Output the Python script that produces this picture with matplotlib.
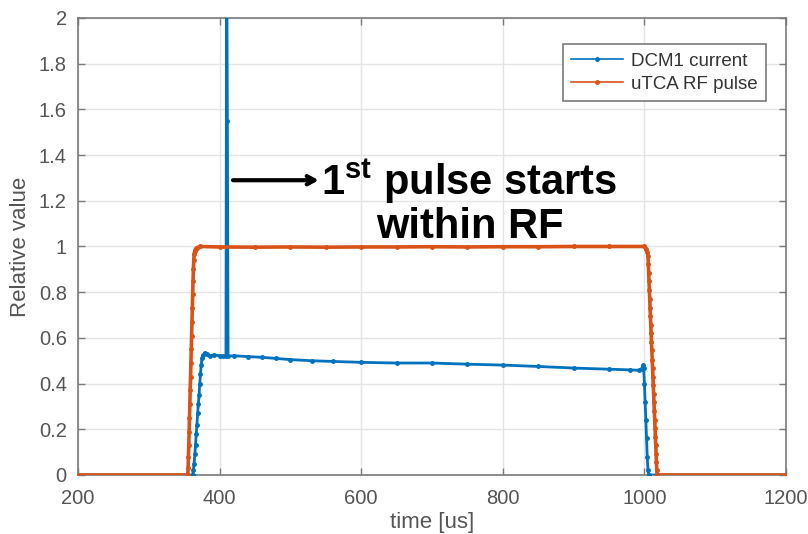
import matplotlib
matplotlib.use("Agg")
import matplotlib.pyplot as plt
from matplotlib.ticker import FuncFormatter, MultipleLocator

# ---------------- data ----------------
dcm_t = [200, 362, 363, 364, 365, 366, 367, 368, 369, 370, 371, 372, 373, 374, 375,
         377, 379, 382, 386, 392, 400, 405, 409, 410, 411, 412, 420, 440, 460, 480,
         500, 530, 560, 600, 650, 700, 750, 800, 850, 900, 950, 980, 993, 996, 998,
         999, 1000, 1001, 1002, 1003, 1004, 1005, 1006, 1200]
dcm_v = [0, 0, 0.02, 0.05, 0.09, 0.13, 0.18, 0.22, 0.27, 0.31, 0.35, 0.40, 0.44, 0.48, 0.51,
         0.525, 0.535, 0.53, 0.522, 0.525, 0.522, 0.52, 0.52, 2.4, 1.55, 0.52, 0.522, 0.518,
         0.515, 0.51, 0.505, 0.50, 0.497, 0.493, 0.49, 0.49, 0.485, 0.481, 0.475, 0.468,
         0.463, 0.46, 0.458, 0.465, 0.48, 0.47, 0.40, 0.32, 0.24, 0.16, 0.08, 0.02, 0.0, 0]

rf_t = [200, 355, 355.5, 356, 356.5, 357, 357.5, 358, 358.5, 359, 359.5, 360, 360.5,
        361, 361.5, 362, 362.5, 363, 363.5, 364, 365, 366, 368, 372, 400, 450, 500,
        550, 600, 650, 700, 750, 800, 850, 900, 950, 1000, 1002, 1004, 1005, 1005.5,
        1006, 1006.5, 1007, 1007.5, 1008, 1008.5, 1009, 1009.5, 1010, 1010.5, 1011,
        1011.5, 1012, 1012.5, 1013, 1013.5, 1014, 1014.5, 1015, 1015.5, 1016, 1016.5,
        1017, 1017.5, 1018, 1200]
rf_v = [0, 0, 0.03, 0.08, 0.13, 0.19, 0.25, 0.31, 0.37, 0.43, 0.49, 0.55, 0.61,
        0.67, 0.73, 0.79, 0.85, 0.90, 0.94, 0.965, 0.98, 0.99, 0.995, 1.0, 0.998, 0.997,
        0.998, 0.997, 0.998, 0.998, 0.999, 0.998, 0.999, 0.999, 1.0, 1.0, 1.0, 0.99,
        0.975, 0.96, 0.925, 0.885, 0.848, 0.81, 0.77, 0.733, 0.695, 0.655, 0.62, 0.58,
        0.545, 0.505, 0.468, 0.43, 0.392, 0.355, 0.318, 0.28, 0.242, 0.205, 0.167, 0.13,
        0.092, 0.055, 0.02, 0, 0]

series_labels = ["DCM1 current", "uTCA RF pulse"]
x_label = "time [us]"
y_label = "Relative value"
note_line1 = r"$\mathbf{1^{st}}$ pulse starts"
note_line2 = "within RF"

# ---------------- figure ----------------
plt.rcParams['font.family'] = ['Liberation Sans', 'DejaVu Sans']
plt.rcParams['mathtext.fontset'] = 'custom'
plt.rcParams['mathtext.rm'] = 'Liberation Sans'
plt.rcParams['mathtext.bf'] = 'Liberation Sans:bold'

fig = plt.figure(figsize=(8.08, 5.34), dpi=100)
ax = fig.add_axes([0.0965, 0.1105, 0.8763, 0.8558])

blue = '#0072BD'
orange = '#D95319'

ax.plot(dcm_t, dcm_v, color=blue, lw=2.0, marker='.', markersize=5,
        label=series_labels[0], zorder=3)
ax.plot(rf_t, rf_v, color=orange, lw=2.6, marker='.', markersize=5,
        label=series_labels[1], zorder=4)

ax.set_xlim(200, 1200)
ax.set_ylim(0, 2)
ax.xaxis.set_major_locator(MultipleLocator(200))
ax.yaxis.set_major_locator(MultipleLocator(0.2))
ax.yaxis.set_major_formatter(FuncFormatter(lambda v, p: "%g" % round(v, 2)))

ax.grid(True, color='#e4e4e4', lw=1.0)
ax.set_axisbelow(True)
for s in ax.spines.values():
    s.set_color('#7a7a7a')
    s.set_linewidth(1.2)
ax.tick_params(direction='in', length=5, width=1, colors='#7a7a7a',
               labelcolor='#555555', labelsize=14.5, top=True, right=True)
ax.tick_params(axis='x', pad=10)
ax.tick_params(axis='y', pad=8)

ax.set_xlabel(x_label, fontsize=16, color='#555555', labelpad=3)
ax.set_ylabel(y_label, fontsize=16, color='#555555', labelpad=6)

leg = ax.legend(loc='upper right', fontsize=13.5, frameon=True, fancybox=False,
                edgecolor='#7a7a7a', framealpha=1, borderpad=0.45,
                handlelength=2.8, handletextpad=0.4, labelspacing=0.3,
                bbox_to_anchor=(0.985, 0.963))
leg.get_frame().set_linewidth(1.2)
for line in leg.get_lines():
    line.set_linewidth(1.2)
for t in leg.get_texts():
    t.set_color('#333333')

# annotation
ax.annotate("", xy=(540, 1.29), xytext=(419, 1.29),
            arrowprops=dict(arrowstyle='->,head_length=0.55,head_width=0.3',
                            lw=3, color='black', shrinkA=0, shrinkB=0), zorder=6)
ax.text(753, 1.225, note_line1, fontsize=30, fontweight='bold', ha='center',
        va='baseline', color='black', zorder=6)
ax.text(753, 1.037, note_line2, fontsize=30, fontweight='bold', ha='center',
        va='baseline', color='black', zorder=6)

fig.savefig("out.png", dpi=100)
